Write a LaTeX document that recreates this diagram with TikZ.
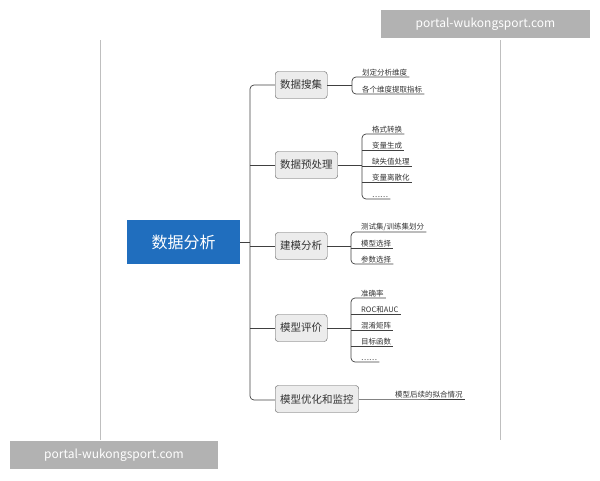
\documentclass[tikz,border=0pt]{standalone}
\usepackage{fontspec}
\setmainfont{Noto Sans CJK SC}
\definecolor{rootblue}{RGB}{32,110,190}
\begin{document}
\begin{tikzpicture}[x=1pt, y=-1pt, line join=miter,
    root/.style={fill=rootblue, text=white, font=\fontsize{16}{18}\selectfont, minimum width=113pt, minimum height=44pt, inner sep=0pt},
    topic/.style={draw=gray!70!black, fill=gray!15, rounded corners=3pt, font=\fontsize{10.5}{12}\selectfont, text=black!80, minimum height=27pt, inner sep=5pt, anchor=west},
    leaf/.style={font=\fontsize{7.5}{9}\selectfont, text=black!80, anchor=south west, inner sep=1pt, inner xsep=2pt},
    link/.style={draw=black!75, line width=0.7pt},
    watermark/.style={fill=gray!60, text=white, font=\fontsize{12}{14}\selectfont, inner sep=0pt, minimum height=28pt}]
    \useasboundingbox (0,0) rectangle (600,480);
    % page edges
    \draw[gray!50] (100,40) -- (100,440);
    \draw[gray!50] (500,40) -- (500,440);
    % root and spine
    \node[root] (root) at (183.5,242) {数据分析};
    \coordinate (sp1) at (250,85);
    \coordinate (sp5) at (250,400);
    \draw[link] (root.east) -- (250,242);
    \draw[link, rounded corners=4pt] (275,85) -- (sp1) -- (sp5) -- (275,400);
    % topics
    \node[topic] (collect) at (275,85) {数据搜集};
    \node[topic] (prep) at (275,165) {数据预处理};
    \node[topic] (model) at (275,246) {建模分析};
    \node[topic] (eval) at (275,328) {模型评价};
    \node[topic] (tune) at (275,399) {模型优化和监控};
    \draw[link] (250,165) -- (prep.west);
    \draw[link] (250,246) -- (model.west);
    \draw[link] (250,328) -- (eval.west);
    % Collect leaves
    \coordinate (bc) at (352,85);
    \node[leaf] (c1) at (360,77) {划定分析维度};
    \node[leaf] (c2) at (360,94) {各个维度提取指标};
    \draw[link] (collect.east) -- (bc);
    \draw[link, rounded corners=4pt] (c1.south east) -- (c1.south west -| bc) -- (c2.south west -| bc) -- (c2.south east);
    % Prep leaves
    \coordinate (bp) at (362,165);
    \node[leaf] (p1) at (370,134) {格式转换};
    \node[leaf] (p2) at (370,150) {变量生成};
    \node[leaf] (p3) at (370,166) {缺失值处理};
    \node[leaf] (p4) at (370,182) {变量离散化};
    \node[leaf] (p5) at (370,199) {……};
    \draw[link] (prep.east) -- (bp);
    \draw[link, rounded corners=4pt] (p1.south east) -- (p1.south west -| bp) -- (p5.south west -| bp) -- (p5.south east);
    \draw[link] (p2.south west -| bp) -- (p2.south east);
    \draw[link] (p3.south west -| bp) -- (p3.south east);
    \draw[link] (p4.south west -| bp) -- (p4.south east);
    % Model leaves
    \coordinate (bm) at (351,246);
    \node[leaf] (m1) at (359,232) {测试集/训练集划分};
    \node[leaf] (m2) at (359,248) {模型选择};
    \node[leaf] (m3) at (359,264) {参数选择};
    \draw[link] (model.east) -- (bm);
    \draw[link, rounded corners=4pt] (m1.south east) -- (m1.south west -| bm) -- (m3.south west -| bm) -- (m3.south east);
    \draw[link] (m2.south west -| bm) -- (m2.south east);
    % Eval leaves
    \coordinate (be) at (351,328);
    \node[leaf] (e1) at (359,298) {准确率};
    \node[leaf] (e2) at (359,314) {ROC和AUC};
    \node[leaf] (e3) at (359,330) {混淆矩阵};
    \node[leaf] (e4) at (359,346) {目标函数};
    \node[leaf] (e5) at (359,362) {……};
    \draw[link] (eval.east) -- (be);
    \draw[link, rounded corners=4pt] (e1.south east) -- (e1.south west -| be) -- (e5.south west -| be) -- (e5.south east);
    \draw[link] (e2.south west -| be) -- (e2.south east);
    \draw[link] (e3.south west -| be) -- (e3.south east);
    \draw[link] (e4.south west -| be) -- (e4.south east);
    % Tune leaf
    \node[leaf] (t1) at (393,399) {模型后续的拟合情况};
    \draw[link] (tune.east) -- (t1.south west) -- (t1.south east);
    % watermarks
    \node[watermark, minimum width=209pt] (wm1) at (485.5,24) {portal-wukongsport.com};
    \node[watermark, minimum width=208pt] (wm2) at (114,455) {portal-wukongsport.com};
\end{tikzpicture}
\end{document}
